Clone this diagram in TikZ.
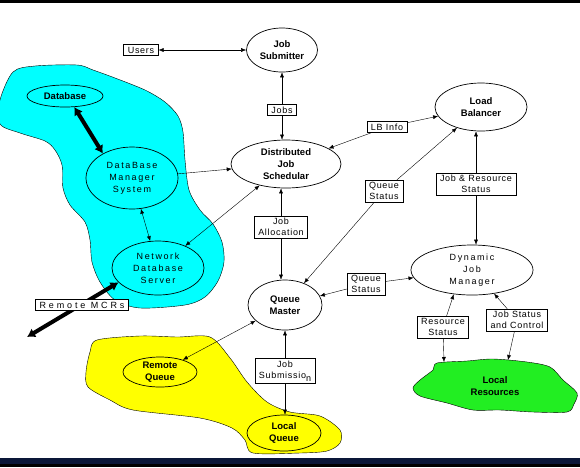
\documentclass[tikz,border=0pt]{standalone}
\usepackage{fontspec}
\setmainfont{Liberation Sans}
\newfontfamily\spacedsf[LetterSpace=18]{Liberation Sans}
\newfontfamily\widesf[LetterSpace=32]{Liberation Sans}
\newfontfamily\boxsf[LetterSpace=8]{Liberation Sans}
\usepackage{tikz}
\usetikzlibrary{shapes.geometric,arrows.meta,backgrounds}
\definecolor{dbcyan}{HTML}{00FFFF}
\definecolor{qyellow}{HTML}{FFFF00}
\definecolor{resgreen}{HTML}{22EE22}
\definecolor{barnavy}{HTML}{0A1638}

\begin{document}
\begin{tikzpicture}[x=1pt, y=-1pt, line width=0.7pt,
    >={Latex[length=5pt,width=4pt]},
    proc/.style={ellipse, draw, inner sep=0pt, align=center,
      font=\fontsize{9.5}{12}\selectfont\bfseries},
    store/.style={ellipse, draw, inner sep=0pt, align=center,
      font=\spacedsf\fontsize{9}{12}\selectfont},
    tag/.style={draw, fill=white, inner xsep=4pt, inner ysep=2.2pt, align=center,
      font=\boxsf\fontsize{9}{11}\selectfont},
    link/.style={<->},
    fat/.style={{Latex[length=8pt,width=10pt]}-{Latex[length=8pt,width=10pt]}, line width=4pt}]
  \useasboundingbox (0,0) rectangle (580,467);

  % processes
  \node[proc, minimum width=71pt, minimum height=44pt] (js) at (282,50) {Job\\Submitter};
  \node[proc, minimum width=110pt, minimum height=48pt] (dist) at (286,164) {Distributed\\Job\\Schedular};
  \node[proc, minimum width=92pt, minimum height=48pt] (lb) at (481,107) {Load\\Balancer};
  \node[proc, minimum width=76pt, minimum height=22pt] (db) at (65,96) {Database};
  \node[store, minimum width=92pt, minimum height=62pt] (dbms) at (132,178) {DataBase\\Manager\\System};
  \node[store, minimum width=92pt, minimum height=54pt] (nds) at (158,268) {Network\\Database\\Server};
  \node[proc, minimum width=74pt, minimum height=50pt] (qm) at (285,305) {Queue\\Master};
  \node[store, minimum width=122pt, minimum height=50pt] (djm) at (472,270) {Dynamic\\Job\\Manager};
  \node[proc, minimum width=74pt, minimum height=30pt] (rq) at (160,372) {Remote\\Queue};
  \node[proc, minimum width=74pt, minimum height=36pt] (lq) at (284,433) {Local\\Queue};
  \node[font=\fontsize{9.5}{12}\selectfont\bfseries, align=center] (lr) at (495,386) {Local\\Resources};

  % labels
  \node[tag] (users) at (141,50) {Users};
  \node[tag] (jobs) at (282,110) {Jobs};
  \node[tag] (lbinfo) at (387,127) {LB Info};
  \node[tag] (qsup) at (384,191) {Queue\\Status};
  \node[tag] (jrs) at (476,184) {Job \& Resource\\Status};
  \node[tag] (jalloc) at (281,227) {Job\\Allocation};
  \node[tag] (qsmid) at (366,284) {Queue\\Status};
  \node[tag] (rstat) at (443,327) {Resource\\Status};
  \node[tag] (jsc) at (517,320) {Job Status\\and Control};
  \node[tag] (jsub) at (285,371) {Job\\Submissio\raisebox{-3pt}{n}};
  \node[tag, font=\widesf\fontsize{9}{11}\selectfont] (mcr) at (82,305) {Remote MCRs};

  \coordinate (mcrend) at (27,337);
  \coordinate (lrA) at (444,362);
  \coordinate (lrB) at (508,360);

  \begin{scope}[on background layer]
    \fill[white] (0,0) rectangle (580,467);
    \fill[black] (0,0) rectangle (580,3);
    \fill[barnavy] (0,458) rectangle (580,464);
    \fill[black] (0,464) rectangle (580,467);

    \draw[fill=dbcyan] plot[smooth cycle, tension=0.5] coordinates {(0,100) (13,72) (35,66) (77,65) (93,70)
      (115,78) (145,90) (165,102) (178,116) (183,132) (185,160) (189,190) (200,210) (213,224) (222,242)
      (224,262) (218,281) (205,297) (185,305) (140,308) (115,300) (100,282) (92,262) (90,240) (85,222)
      (70,205) (63,188) (62,165) (55,150) (45,141) (20,133) (0,124)};
    \draw[fill=qyellow] plot[smooth cycle, tension=0.5] coordinates {(97,340) (140,336) (177,337) (210,337)
      (230,358) (247,382) (267,402) (290,412) (320,416) (340,430) (340,443) (327,451) (300,453) (253,453)
      (245,440) (232,428) (200,418) (133,410) (110,400) (88,387) (86,372) (90,352)};
    \draw[fill=resgreen] plot[smooth cycle, tension=0.5] coordinates {(437,363) (467,361) (493,359) (527,362)
      (550,367) (563,380) (577,393) (574,404) (567,412) (533,412) (500,410) (473,410) (447,403) (420,396)
      (413,388) (420,380) (433,370)};

    \draw[link] (users) -- (js);
    \draw[link] (jobs |- js.south) -- (jobs |- dist.north);
    \draw[<-] (dist) -- (lbinfo);
    \draw[->] (lbinfo) -- (lb);
    \draw[<-] (lb) -- (qsup);
    \draw[->] (qsup) -- (qm);
    \draw[link] (jrs |- lb.south) -- (jrs |- djm.north);
    \draw[link] (jalloc |- dist.south) -- (jalloc |- qm.north);
    \draw[<-] (qm) -- (qsmid);
    \draw[->] (qsmid) -- (djm);
    \draw[<-] (djm.233) -- (rstat);
    \draw[->] (rstat) -- (lrA);
    \draw[<-] (djm.313) -- (jsc);
    \draw[->] (jsc) -- (lrB);
    \draw[link] (jsub |- qm.south) -- (jsub |- lq.north);
    \draw[link] (rq) -- (qm);
    \draw[->] (dbms) -- (dist);
    \draw[link] (nds) -- (dist);
    \draw[link] (dbms) -- (nds);
    \draw[fat] (db.-50) -- (dbms.140);
    \draw[fat] (nds.200) -- (mcrend);
  \end{scope}
\end{tikzpicture}
\end{document}
